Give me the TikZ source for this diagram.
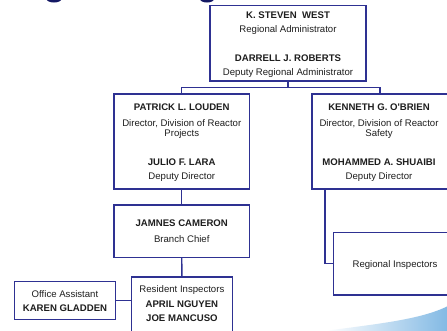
\documentclass[tikz,border=0pt]{standalone}
\usepackage{fontspec}
\setmainfont{Liberation Sans}
\definecolor{boxline}{RGB}{46,49,146}
\definecolor{txt}{RGB}{30,30,30}
\definecolor{navy}{RGB}{20,24,100}
\definecolor{swoosh}{RGB}{130,185,228}
\newcommand{\straightq}{\XeTeXglyph\XeTeXcharglyph"0027\relax}
\begin{document}
\begin{tikzpicture}[x=1pt,y=-1pt,
  orgbox/.style={draw=boxline,line width=1.4pt,rectangle,inner sep=0pt,fill=white},
  conn/.style={draw=boxline,line width=1.4pt},
  nm/.style={font=\fontsize{9.6}{11}\selectfont\bfseries,text=txt,anchor=base,inner sep=0pt},
  tt/.style={font=\fontsize{9.6}{11}\selectfont,text=txt,anchor=base,inner sep=0pt}]
\useasboundingbox (0,0) rectangle (447,330);
\clip (0,0) rectangle (447,330);
\fill[white] (0,0) rectangle (447,330);
% cut-off title remnants
\fill[navy] (54,-1) ellipse [x radius=7.5, y radius=3.5];
\fill[navy] (207,-1) ellipse [x radius=7, y radius=3.5];
% swoosh
\shade[left color=white,right color=swoosh] (325,331) .. controls (375,324) and (420,320) .. (448,306) -- (448,331) -- cycle;
% boxes
\node[orgbox,minimum width=156,minimum height=75.3] (top) at (288,43.3) {};
\node[orgbox,minimum width=135.5,minimum height=95] (lp) at (181.75,141.5) {};
\node[orgbox,minimum width=136,minimum height=95] (rs) at (380,141.5) {};
\node[orgbox,minimum width=135.5,minimum height=52.5] (cam) at (181.75,231.25) {};
\node[orgbox,minimum width=100.8,minimum height=58] (res) at (181.9,306) {};
\node[orgbox,minimum width=100.8,minimum height=37.8] (off) at (64.9,300.6) {};
\node[orgbox,minimum width=126.6,minimum height=62.7] (ri) at (396.6,263.6) {};
% connectors
\coordinate (bus) at (288,87.7);
\draw[conn] (top.south) -- (bus);
\draw[conn] (lp.north) |- (bus) -| (rs.north);
\draw[conn] (lp.south) -- (cam.north);
\draw[conn] (cam.south) -- (res.north);
\draw[conn] (off.east) -- (off.east -| res.west);
\coordinate (rsdrop) at ([xshift=13.6pt]rs.south west);
\draw[conn] (rsdrop) |- (ri.west);
% texts
\node[nm] (t1) at (288,18.3) {K. STEVEN\ \ WEST};
\node[tt] (t2) at (288,32.3) {Regional Administrator};
\node[nm] (t3) at (288,61.3) {DARRELL J. ROBERTS};
\node[tt] (t4) at (288,75.7) {Deputy Regional Administrator};
\node[nm] (l1) at (181.75,110.7) {PATRICK L. LOUDEN};
\node[tt] (l2) at (181.75,126.8) {Director, Division of Reactor};
\node[tt] (l3) at (181.75,136.3) {Projects};
\node[nm] (l4) at (181.75,165) {JULIO F. LARA};
\node[tt] (l5) at (181.75,179.3) {Deputy Director};
\node[nm] (r1) at (379,110.7) {KENNETH G. O\straightq BRIEN};
\node[tt] (r2) at (379,126.8) {Director, Division of Reactor};
\node[tt] (r3) at (379,136.3) {Safety};
\node[nm] (r4) at (379,165) {MOHAMMED A. SHUAIBI};
\node[tt] (r5) at (379,179.3) {Deputy Director};
\node[nm] (c1) at (181.75,226.7) {JAMNES CAMERON};
\node[tt] (c2) at (181.75,242.7) {Branch Chief};
\node[tt] (s1) at (181.9,292.7) {Resident Inspectors};
\node[nm] (s2) at (181.9,307.3) {APRIL NGUYEN};
\node[nm] (s3) at (181.9,321.3) {JOE MANCUSO};
\node[tt] (o1) at (65,297.5) {Office Assistant};
\node[nm] (o2) at (65,311.3) {KAREN GLADDEN};
\node[tt] (g1) at (395,267.3) {Regional Inspectors};
\end{tikzpicture}
\end{document}
